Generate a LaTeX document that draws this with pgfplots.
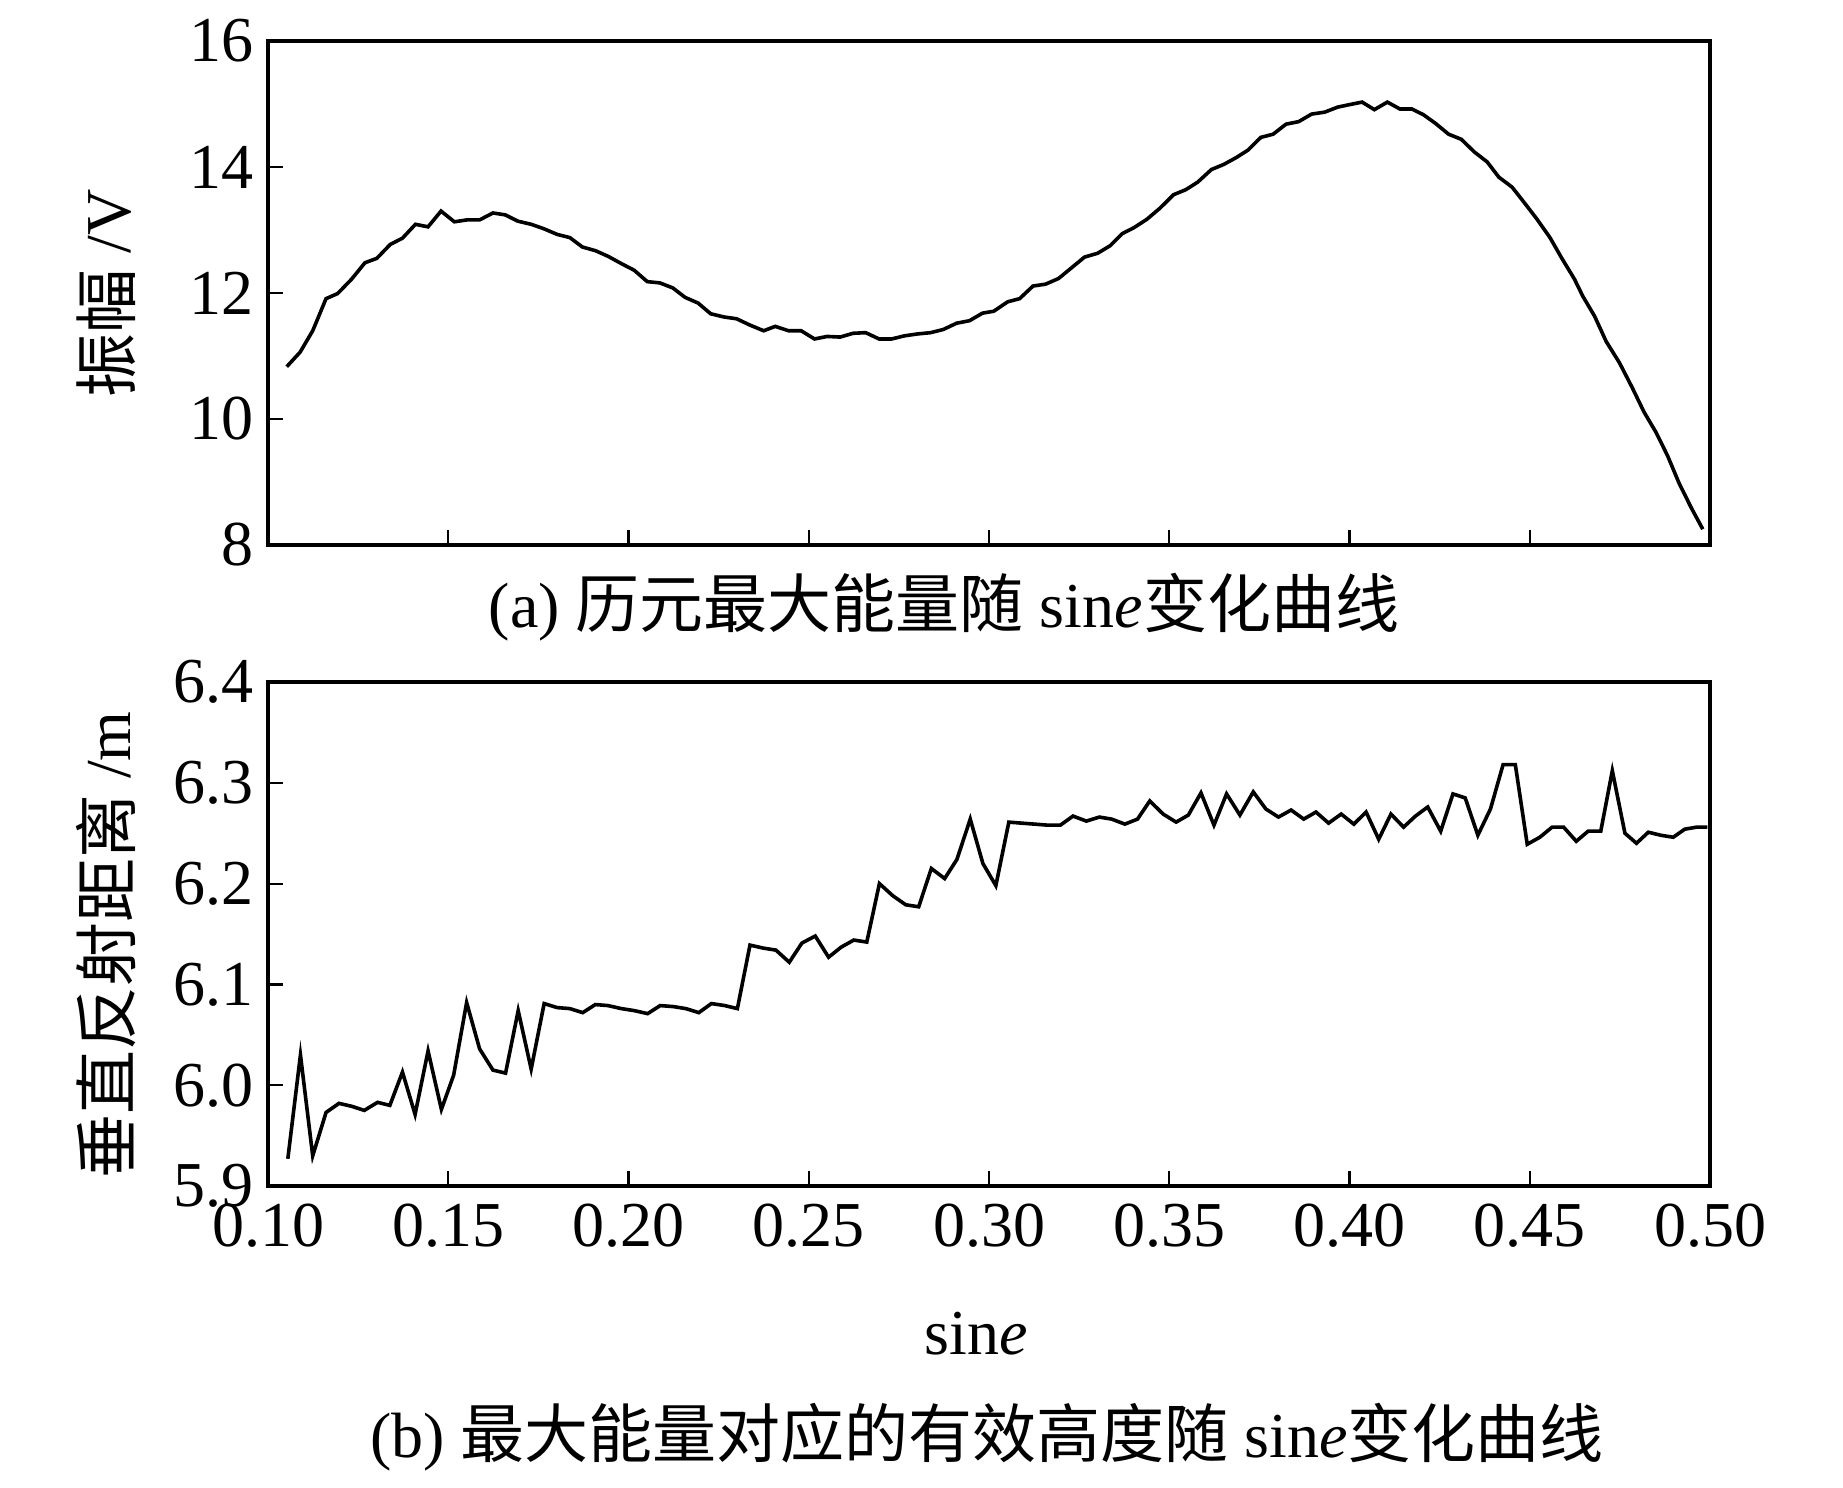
\documentclass[border=0pt]{standalone}
\usepackage{fontspec}
\setmainfont{Liberation Serif}
\newfontfamily\cjk{Noto Sans CJK SC}
\usepackage{pgfplots}
\usepackage{pgfplotstable}
\pgfplotsset{compat=1.18}

% amplitude of the largest energy vs sine
\pgfplotstableread{
x y
0.1052 10.83
0.1089 11.06
0.1124 11.40
0.1161 11.91
0.1193 11.99
0.1232 12.22
0.1269 12.48
0.1302 12.55
0.1339 12.77
0.1373 12.87
0.1409 13.09
0.1444 13.05
0.1480 13.30
0.1517 13.13
0.1552 13.16
0.1587 13.16
0.1624 13.27
0.1658 13.24
0.1693 13.14
0.1730 13.09
0.1765 13.02
0.1802 12.93
0.1837 12.88
0.1872 12.73
0.1909 12.67
0.1944 12.58
0.1979 12.47
0.2016 12.36
0.2052 12.18
0.2087 12.16
0.2123 12.08
0.2157 11.93
0.2193 11.84
0.2228 11.67
0.2264 11.62
0.2300 11.59
0.2337 11.49
0.2375 11.40
0.2407 11.47
0.2444 11.40
0.2479 11.40
0.2516 11.27
0.2551 11.31
0.2587 11.30
0.2623 11.36
0.2658 11.37
0.2695 11.27
0.2730 11.27
0.2766 11.32
0.2802 11.35
0.2838 11.37
0.2873 11.42
0.2910 11.52
0.2946 11.56
0.2982 11.68
0.3013 11.71
0.3052 11.86
0.3085 11.91
0.3122 12.11
0.3157 12.14
0.3193 12.23
0.3229 12.40
0.3265 12.57
0.3301 12.63
0.3336 12.75
0.3369 12.94
0.3403 13.04
0.3438 13.17
0.3475 13.35
0.3512 13.56
0.3546 13.64
0.3579 13.76
0.3617 13.96
0.3651 14.04
0.3686 14.15
0.3719 14.27
0.3754 14.47
0.3788 14.52
0.3824 14.68
0.3859 14.72
0.3895 14.84
0.3931 14.87
0.3967 14.95
0.4000 14.99
0.4035 15.03
0.4069 14.91
0.4105 15.03
0.4140 14.92
0.4173 14.92
0.4205 14.83
0.4239 14.69
0.4275 14.52
0.4310 14.44
0.4346 14.24
0.4382 14.08
0.4414 13.84
0.4451 13.68
0.4484 13.44
0.4519 13.18
0.4556 12.88
0.4588 12.56
0.4624 12.22
0.4647 11.95
0.4680 11.63
0.4712 11.23
0.4749 10.89
0.4784 10.50
0.4817 10.11
0.4850 9.79
0.4882 9.42
0.4915 8.97
0.4948 8.59
0.4980 8.25
}\amptable

% effective height at the largest energy vs sine
\pgfplotstableread{
x y
0.1055 5.927
0.1090 6.030
0.1124 5.930
0.1161 5.973
0.1197 5.982
0.1233 5.979
0.1267 5.975
0.1304 5.983
0.1338 5.980
0.1373 6.013
0.1408 5.971
0.1444 6.034
0.1481 5.976
0.1515 6.010
0.1551 6.082
0.1587 6.036
0.1624 6.015
0.1659 6.012
0.1694 6.074
0.1730 6.016
0.1766 6.081
0.1802 6.077
0.1837 6.076
0.1873 6.072
0.1908 6.080
0.1943 6.079
0.1980 6.076
0.2016 6.074
0.2053 6.071
0.2088 6.079
0.2124 6.078
0.2159 6.076
0.2195 6.072
0.2230 6.081
0.2267 6.079
0.2302 6.076
0.2337 6.139
0.2374 6.136
0.2409 6.134
0.2446 6.122
0.2481 6.141
0.2518 6.148
0.2555 6.127
0.2590 6.137
0.2625 6.144
0.2661 6.142
0.2696 6.200
0.2733 6.188
0.2769 6.179
0.2805 6.177
0.2840 6.215
0.2877 6.205
0.2911 6.224
0.2948 6.264
0.2983 6.220
0.3019 6.198
0.3055 6.261
0.3090 6.260
0.3127 6.259
0.3162 6.258
0.3198 6.258
0.3233 6.267
0.3270 6.262
0.3306 6.266
0.3340 6.264
0.3377 6.259
0.3412 6.264
0.3446 6.282
0.3483 6.269
0.3519 6.261
0.3553 6.268
0.3588 6.290
0.3624 6.258
0.3659 6.289
0.3696 6.268
0.3733 6.291
0.3768 6.274
0.3803 6.266
0.3838 6.273
0.3873 6.264
0.3907 6.271
0.3942 6.260
0.3977 6.269
0.4012 6.259
0.4046 6.271
0.4081 6.244
0.4115 6.269
0.4150 6.256
0.4183 6.267
0.4217 6.276
0.4253 6.252
0.4287 6.289
0.4321 6.285
0.4356 6.248
0.4391 6.274
0.4426 6.318
0.4460 6.318
0.4493 6.239
0.4528 6.246
0.4562 6.256
0.4594 6.256
0.4629 6.242
0.4662 6.252
0.4697 6.252
0.4729 6.312
0.4764 6.250
0.4796 6.240
0.4829 6.251
0.4863 6.248
0.4898 6.246
0.4930 6.254
0.4963 6.256
0.4993 6.256
}\heighttable

\pgfplotsset{
  panel/.style={
    scale only axis,
    width=360.5pt, height=126pt,
    anchor=north west,
    xmin=0.1, xmax=0.5,
    axis line style={line width=1.15pt},
    tick align=inside,
    xtick pos=bottom, ytick pos=left,
    major tick length=3.75pt,
    tick style={line width=0.55pt, black},
    ticklabel style={font=\fontsize{16}{16}\selectfont},
    xticklabel style={yshift=-1pt},
    /pgf/number format/assume math mode=true,
  },
  curve/.style={black, line width=0.9pt, no markers},
}

\begin{document}
\begin{tikzpicture}
% picture laid out in reference pixels: 1 px = 0.25pt
\path[use as bounding box] (0pt,0pt) rectangle (460.75pt,-372pt);

\begin{axis}[panel, at={(67pt,-10.25pt)},
    ymin=8, ymax=16, ytick={8,10,12,14,16},
    xtick={0.15,0.2,0.25,0.3,0.35,0.4,0.45}, xticklabels={}]
\addplot[curve] table[x=x, y=y] {\amptable};
\end{axis}

\begin{axis}[panel, at={(67pt,-170.5pt)},
    ymin=5.9, ymax=6.4, ytick={5.9,6.0,6.1,6.2,6.3,6.4},
    yticklabel style={/pgf/number format/.cd, fixed, fixed zerofill, precision=1},
    xtick={0.1,0.15,0.2,0.25,0.3,0.35,0.4,0.45,0.5},
    xticklabel style={/pgf/number format/.cd, fixed, fixed zerofill, precision=2}]
\addplot[curve] table[x=x, y=y] {\heighttable};
\end{axis}

\begin{scope}[x=0.25pt, y=-0.25pt, every node/.style={font=\fontsize{16}{16}\selectfont, inner sep=0pt}]
\node[rotate=90] at (106,293) {{\cjk 振幅} /V};
\node[rotate=90] at (106,945) {{\cjk 垂直反射距离} /m};
\node at (944,607) {(a) {\cjk 历元最大能量随} sin\textit{e}{\cjk 变化曲线}};
\node at (976,1334) {sin\textit{e}};
\node at (987,1437) {(b) {\cjk 最大能量对应的有效高度随} sin\textit{e}{\cjk 变化曲线}};
\end{scope}
\end{tikzpicture}
\end{document}
